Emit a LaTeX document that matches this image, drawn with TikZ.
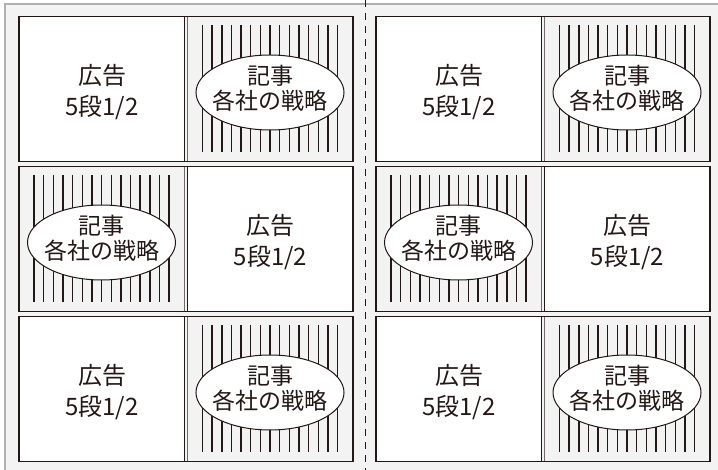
\documentclass[tikz,border=0pt]{standalone}
\usepackage{fontspec}
\setmainfont{Noto Sans CJK JP}
\usetikzlibrary{shapes.geometric}

\definecolor{paper}{RGB}{243,243,243}
\definecolor{ink}{RGB}{35,24,21}
\definecolor{framegray}{RGB}{175,175,175}

\begin{document}
\begin{tikzpicture}[x=1pt, y=-1pt,
        adcell/.style = {draw=ink, line width=1.3pt, fill=white},
        hatchcell/.style = {draw=ink!65, line width=0.9pt, fill=paper},
        hatchline/.style = {draw=ink, line width=1.4pt},
        kiji/.style = {ellipse, draw=ink, line width=1pt, fill=white,
                minimum width=148pt, minimum height=75pt, inner sep=0pt},
        kijitext/.style = {align=center, text=ink, font=\fontsize{23}{25}\selectfont},
        adtext/.style = {align=center, text=ink, font=\fontsize{24}{31}\selectfont}]
        \useasboundingbox (0,0) rectangle (718,470);

        % paper and outer frame
        \fill[white] (0,0) rectangle (718,470);
        \fill[paper] (5,4) rectangle (718,470);
        \draw[framegray, line width=1.2pt] (5,470) -- (5,4) -- (718,4);

        % fold line
        \draw[ink, line width=0.8pt, dash pattern=on 7pt off 6pt] (365,0) -- (365,470);

        % two pages, three rows each
        \foreach \x/\n in {19/L, 376/R} {
            \foreach \y/\m/\flip in {16.5/1/0, 166.5/2/1, 316.5/3/0} {
                \pgfmathsetmacro{\ax}{\x+168.5*\flip}
                \pgfmathsetmacro{\hx}{\x+168.5*(1-\flip)}

                \draw[hatchcell] (\hx,\y) rectangle ++(165.5,145);
                \foreach \k in {0,...,14}
                    \draw[hatchline] (\hx+15+\k*9.65,\y+8.5) -- ++(0,127);
                \draw[adcell] (\ax,\y) rectangle ++(165.5,145);
                \draw[ink, line width=1.3pt] (\x,\y) rectangle ++(334,145);

                \node[kiji] (kiji-\n\m) at (\hx+82.5,\y+76) {};
                \node[kijitext] (kijitext-\n\m) at ([yshift=4pt]kiji-\n\m.center) {記事\\各社の戦略};
                \node[adtext] (ad-\n\m) at (\ax+83,\y+76) {広告\\5段1/2};
            }
        }
\end{tikzpicture}
\end{document}
